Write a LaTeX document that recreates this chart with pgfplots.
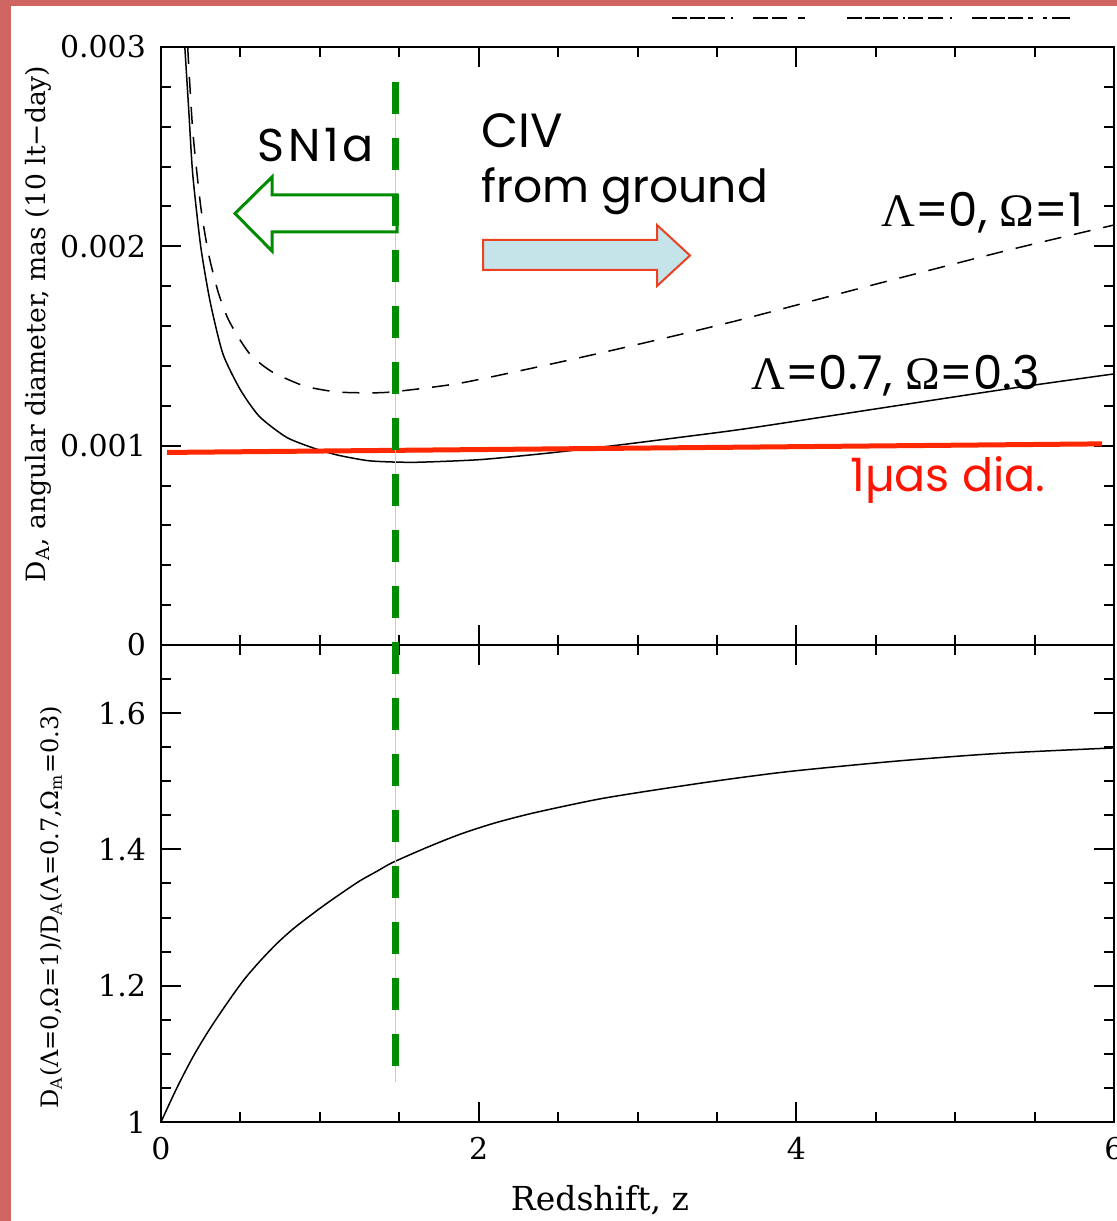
\documentclass[border=0pt]{standalone}
\usepackage{pgfplots}
\pgfplotsset{compat=1.18}
\usepackage{fontspec}
\setmainfont{DejaVu Serif}
\newfontfamily\gothic{Poppins}
\newfontfamily\gothicsp[LetterSpace=8]{Poppins}
\newfontfamily\greek{Liberation Serif}
\definecolor{slidered}{RGB}{206,101,96}
\definecolor{mygreen}{RGB}{0,140,0}
\definecolor{lightbl}{RGB}{173,216,230}
\definecolor{arrowfill}{RGB}{197,228,234}
\definecolor{arrowedge}{RGB}{235,65,35}
\definecolor{labred}{RGB}{255,20,0}
\definecolor{linered}{RGB}{255,40,0}

\begin{document}
\begin{tikzpicture}
\path[use as bounding box] (0,0) rectangle (558.5pt,610.5pt);
\fill[white] (0,0) rectangle (558.5pt,610.5pt);

\pgfplotsset{
  common/.style={
    scale only axis, width=476.5pt, xmin=0, xmax=6,
    axis line style={line width=1pt},
    tick style={line width=1pt, black},
    tick align=inside, major tick length=10pt, minor tick length=5pt,
    xtick={0,2,4,6}, minor xtick={0.5,1,1.5,2.5,3,3.5,4.5,5,5.5},
    tick label style={font=\fontsize{15}{17}\selectfont},
    yticklabel style={xshift=-4pt},
    xticklabel style={yshift=-4pt},
    clip=false
  }
}

% ---------------- bottom panel: ratio ----------------
\begin{axis}[common,
  at={(80.5pt,49.5pt)}, anchor=south west, height=238.5pt,
  ymin=1, ymax=1.7,
  ytick={1,1.2,1.4,1.6},
  yticklabels={{\raisebox{-1.5pt}{1}\hspace{9.5pt}},1.2,1.4,1.6},
  minor ytick={1.05,1.1,1.15,1.25,1.3,1.35,1.45,1.5,1.55,1.65},
  xticklabels={0,2,4,6},
  xlabel={Redshift, z},
  ylabel={D\textsubscript{A}(Λ=0,Ω=1)/D\textsubscript{A}(Λ=0.7,Ω\textsubscript{m}=0.3)},
  xlabel style={at={(rel axis cs:0.4607,-0.1635)}, anchor=center, font=\fontsize{16.5}{18}\selectfont},
  ylabel style={at={(rel axis cs:-0.1154,0.4497)}, anchor=center, font=\fontsize{12}{14}\selectfont},
]
\addplot[black, line width=0.75pt, smooth, tension=0.5] coordinates {
(0,1.0) (0.1,1.050) (0.2,1.095) (0.3,1.134) (0.415,1.174) (0.52,1.208)
(0.623,1.236) (0.73,1.262) (0.83,1.283) (0.94,1.303) (1.045,1.321)
(1.15,1.338) (1.253,1.354) (1.36,1.368) (1.46,1.381) (1.675,1.403)
(1.88,1.422) (2.09,1.438) (2.3,1.451) (2.51,1.462) (2.76,1.474)
(3.02,1.484) (3.39,1.497) (3.7,1.507) (4.02,1.516) (4.65,1.530)
(5.28,1.541) (6.0,1.549)};
\end{axis}

% ---------------- top panel: angular size ----------------
\begin{axis}[common,
  at={(80.5pt,288pt)}, anchor=south west, height=299pt,
  ymin=0, ymax=0.003,
  ytick={0,0.001,0.002,0.003},
  yticklabels={0,0.001,0.002,0.003},
  scaled y ticks=false,
  minor y tick num=4,
  xticklabels={},
  ylabel={D\textsubscript{A}, angular diameter, mas (10 lt−day)},
  ylabel style={at={(rel axis cs:-0.129,0.537)}, anchor=center, font=\fontsize{13.3}{15}\selectfont},
]
% Lambda=0.7, Omega=0.3
\addplot[black, line width=0.75pt, smooth, tension=0.4] coordinates {
(0.150,0.003) (0.175,0.00268) (0.20,0.00236) (0.25,0.00200) (0.31,0.00172)
(0.39,0.00146) (0.50,0.00128) (0.62,0.001146) (0.79,0.001042) (0.96,0.000988)
(1.11,0.000953) (1.30,0.000925) (1.46,0.000918) (1.63,0.000917) (2.01,0.000930)
(2.43,0.000962) (2.85,0.001000) (3.27,0.001042) (3.69,0.001086) (4.48,0.001182)
(5.33,0.001285) (6.0,0.00136)};
% Lambda=0, Omega=1
\addplot[black, line width=0.75pt, dash pattern=on 8.5pt off 6.5pt, smooth, tension=0.4] coordinates {
(0.168,0.003) (0.20,0.00258) (0.25,0.00220) (0.30,0.00196) (0.36,0.00177)
(0.42,0.00164) (0.49,0.00154) (0.57,0.00145) (0.70,0.00137) (0.90,0.00130)
(1.10,0.00127) (1.30,0.001265) (1.46,0.00127) (1.88,0.001313) (2.43,0.001405)
(2.85,0.00148) (3.27,0.001558) (3.69,0.00164) (4.48,0.001806) (5.33,0.00198)
(6.0,0.002107)};
% 1 micro-arcsec line
\addplot[linered, line width=2.5pt] coordinates {(0.038,0.000966) (5.925,0.001009)};
% z = 1.47 marker
\addplot[lightbl, line width=0.5pt] coordinates {(1.474,0.0028249) (1.474,-0.0021927)};
\addplot[mygreen, line width=3.5pt, dash pattern=on 16pt off 12pt] coordinates {(1.474,0.0028249) (1.474,-0.0021124)};
\end{axis}

% ---------------- annotations (pixel frame) ----------------
\begin{scope}[x=0.5pt,y=-0.5pt,shift={(0pt,610.5pt)}]
\fill[slidered] (0,0) rectangle (11,1221);
\fill[slidered] (0,0) rectangle (1117,6);
\draw[mygreen, line width=1.5pt, line join=miter]
  (397,195) -- (272,195) -- (272,177) -- (235,213.5) -- (272,251) -- (272,232) -- (397,232) -- cycle;
\filldraw[fill=arrowfill, draw=arrowedge, line width=1pt, line join=miter]
  (483,240) -- (657,240) -- (657,225) -- (690,255.5) -- (657,286) -- (657,270) -- (483,270) -- cycle;
\node[anchor=base west, inner sep=0] at (257,162) {\gothicsp\fontsize{23}{26}\selectfont SN1a};
\node[anchor=base west, inner sep=0] at (481,148) {\gothic\fontsize{24}{28}\selectfont CIV};
\node[anchor=base west, inner sep=0] at (481,203) {\gothic\fontsize{22.8}{26}\selectfont from ground};
\node[anchor=base west, inner sep=0] at (881,227) {\fontsize{23.3}{26}\selectfont{\greek Λ}{\gothic =0, }{\greek Ω}{\gothic =1}};
\node[anchor=base west, inner sep=0] at (751,390) {\fontsize{23.3}{26}\selectfont{\greek Λ}{\gothic =0.7, }{\greek Ω}{\gothic =0.3}};
\node[anchor=base west, inner sep=0, text=labred] at (850,492) {\gothic\fontsize{23}{26}\selectfont 1µas dia.};
% cut-off remnants at the top edge
\begin{scope}[line width=1pt]
\draw (672,18)--(687,18) (690,18)--(705,18) (708,18)--(725,18) (731,18)--(733,18);
\draw (753,18)--(768,18) (772,18)--(787,18) (798,18)--(805,18);
\draw (847,18)--(862,18) (865,18)--(880,18) (883,18)--(898,18) (903,18)--(905,18)
      (908,18)--(923,18) (928,18)--(943,18) (950,18)--(952,18);
\draw (972,18)--(987,18) (990,18)--(1005,18) (1008,18)--(1023,18) (1028,18)--(1033,18)
      (1043,18)--(1047,18) (1052,18)--(1070,18);
\end{scope}
\end{scope}
\end{tikzpicture}
\end{document}
